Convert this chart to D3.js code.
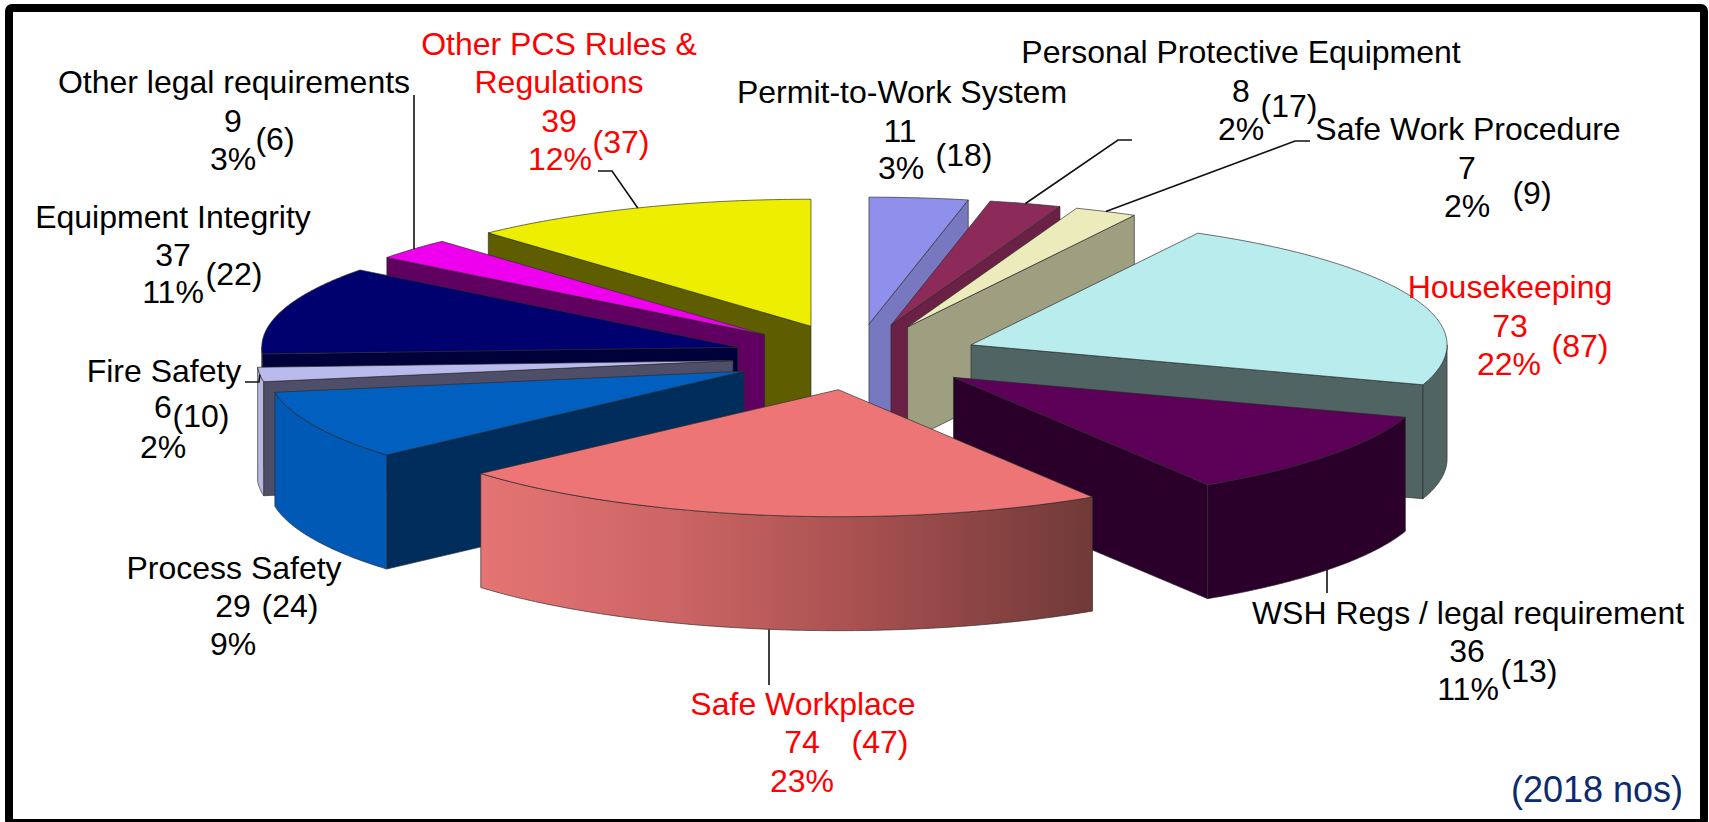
<!DOCTYPE html>
<html lang="en">
<head>
    <meta charset="UTF-8">
    <title>Findings by category (2018 nos)</title>
    <script src="https://d3js.org/d3.v7.min.js"></script>
    <style>
        html, body { margin: 0; padding: 0; background: #fff; }
        svg { display: block; }
        text { font-family: "Liberation Sans", Arial, sans-serif; font-size: 32px; text-anchor: middle; }
    </style>
</head>
<body>
    <div id="chart_div"></div>
    <script>
        // Data, clockwise from 12 o'clock
        const categories = ["Permit-to-Work System", "Personal Protective Equipment", "Safe Work Procedure",
            "Housekeeping", "WSH Regs / legal requirement", "Safe Workplace", "Process Safety", "Fire Safety",
            "Equipment Integrity", "Other legal requirements", "Other PCS Rules & Regulations"];
        const counts = [11, 8, 7, 73, 36, 74, 29, 6, 37, 9, 39];
        const previousCounts = [18, 17, 9, 87, 13, 47, 24, 10, 22, 6, 37];
        const percents = [3, 2, 2, 22, 11, 23, 9, 2, 11, 3, 12];
        const highlighted = ["Housekeeping", "Safe Workplace", "Other PCS Rules & Regulations"];
        const footnote = "(2018 nos)";

        const width = 1709;
        const height = 822;

        // Pie geometry
        const cx = 856, cy = 357, rx = 476, ry = 127, depth = 114, explode = 0.26;

        const topColors = ["#8f8fec", "#8c2a5a", "#ecebbc", "#b9ecec", "#5c0058", "#ee7575",
            "#005fbf", "#babaec", "#00006e", "#ee00ee", "#eeee00"];
        const cutColors = ["#7878c0", "#6b2146", "#9e9e80", "#506464", "#2a002a", "#a85050",
            "#002d5c", "#4e4e68", "#00003a", "#600060", "#5e5e00"];
        const rimColors = ["#7878c0", "#6b2146", "#9e9e80", "#506464", "#2a002a", "url(#rimGrad)",
            "#005ab5", "#b8b8e0", "#00003a", "#600060", "#5e5e00"];

        // Label placement, one row per category: name lines, count, percent, previous count
        const labelLayout = [
            { name: [[902, 103]], count: [900, 142], pct: [901, 179], prev: [964, 166] },
            { name: [[1241, 63]], count: [1241, 102], pct: [1241, 140], prev: [1289, 117] },
            { name: [[1468, 140]], count: [1467, 179], pct: [1467, 217], prev: [1532, 204] },
            { name: [[1510, 298]], count: [1510, 337], pct: [1509, 375], prev: [1580, 357] },
            { name: [[1468, 624]], count: [1467, 662], pct: [1468, 700], prev: [1529, 682] },
            { name: [[803, 715]], count: [802, 753], pct: [802, 792], prev: [880, 753] },
            { name: [[234, 579]], count: [233, 617], pct: [233, 655], prev: [290, 617] },
            { name: [[164, 382]], count: [163, 418], pct: [163, 458], prev: [201, 427] },
            { name: [[173, 228]], count: [173, 266], pct: [173, 303], prev: [234, 285] },
            { name: [[234, 93]], count: [233, 132], pct: [233, 170], prev: [275, 150] },
            { name: [[559, 55], [559, 93]], count: [559, 132], pct: [560, 170], prev: [621, 153] }
        ];
        const nameLines = { "Other PCS Rules & Regulations": ["Other PCS Rules &", "Regulations"] };

        // Leader lines: from the label elbow to the middle of the slice
        const leaders = [
            { cat: "Personal Protective Equipment", pts: [[1132, 140], [1118, 140]] },
            { cat: "Safe Work Procedure", pts: [[1310, 141], [1295, 141]] },
            { cat: "WSH Regs / legal requirement", pts: [[1327, 593]], vertical: true },
            { cat: "Safe Workplace", pts: [[769, 685]], vertical: true },
            { cat: "Fire Safety", pts: [[245, 382], [259, 382]] },
            { cat: "Other legal requirements", pts: [[414, 95]], vertical: true },
            { cat: "Other PCS Rules & Regulations", pts: [[598, 171], [612, 171]] }
        ];

        const x = d3.scaleLinear().domain([-1, 1]).range([cx - rx, cx + rx]);
        const y = d3.scaleLinear().domain([-1, 1]).range([cy - ry, cy + ry]);
        const line = d3.line();

        const svg = d3.select("#chart_div").append("svg")
            .attr("width", width)
            .attr("height", height);

        const grad = svg.append("defs").append("linearGradient").attr("id", "rimGrad");
        [[0, "#e57474"], [0.33, "#cb6464"], [0.62, "#a85050"], [1, "#6f3a38"]].forEach(s => {
            grad.append("stop").attr("offset", s[0]).attr("stop-color", s[1]);
        });

        const slices = d3.pie().sort(null).value(d => d)(counts).map((s, i) => {
            const mid = (s.startAngle + s.endAngle) / 2;
            return { ...s, i, mid, ox: explode * Math.sin(mid), oy: -explode * Math.cos(mid) };
        });

        // Point of a slice at angle a, radius r (0..1), z 0 = top face, 1 = bottom face
        function pt(s, a, r, z) {
            return [x(s.ox + r * Math.sin(a)), y(s.oy - r * Math.cos(a)) + z * depth];
        }

        function arcPts(s, a, b, z) {
            const n = Math.ceil((b - a) / 0.01);
            return d3.range(n + 1).map(k => pt(s, a + (b - a) * k / n, 1, z));
        }

        function drawPoly(g, pts, fill) {
            g.append("path")
                .attr("d", line(pts) + "Z")
                .attr("fill", fill)
                .attr("stroke", "#2b2b2b")
                .attr("stroke-opacity", 0.75)
                .attr("stroke-width", 0.9)
                .attr("stroke-linejoin", "round");
        }

        // Back to front
        const order = slices.slice().sort((a, b) => Math.cos(b.mid) - Math.cos(a.mid));
        const pieG = svg.append("g");
        order.forEach(s => {
            const g = pieG.append("g").attr("class", "slice");
            const a = s.startAngle, b = s.endAngle;

            // cut faces that look towards the viewer
            if (Math.sin(a) < 0) {
                drawPoly(g, [pt(s, 0, 0, 0), pt(s, a, 1, 0), pt(s, a, 1, 1), pt(s, 0, 0, 1)], cutColors[s.i]);
            }
            if (Math.sin(b) > 0) {
                drawPoly(g, [pt(s, 0, 0, 0), pt(s, b, 1, 0), pt(s, b, 1, 1), pt(s, 0, 0, 1)], cutColors[s.i]);
            }

            // rim, front half only
            const a1 = Math.max(a, Math.PI / 2), b1 = Math.min(b, 3 * Math.PI / 2);
            if (a1 < b1) {
                drawPoly(g, arcPts(s, a1, b1, 0).concat(arcPts(s, a1, b1, 1).reverse()), rimColors[s.i]);
            }

            drawPoly(g, [pt(s, 0, 0, 0)].concat(arcPts(s, a, b, 0)), topColors[s.i]);
        });

        // Leader lines
        leaders.forEach(l => {
            const s = slices[categories.indexOf(l.cat)];
            const end = pt(s, s.mid, 1, Math.cos(s.mid) < -0.5 ? 1 : 0);
            if (l.vertical) end[0] = l.pts[0][0];
            svg.append("path")
                .attr("d", line(l.pts.concat([end])))
                .attr("fill", "none")
                .attr("stroke", "#111")
                .attr("stroke-width", 1.6);
        });

        // Labels
        function addText(p, str, color) {
            svg.append("text").attr("x", p[0]).attr("y", p[1]).attr("fill", color).text(str);
        }
        categories.forEach((c, i) => {
            const color = highlighted.includes(c) ? "#ff0000" : "#000";
            const pos = labelLayout[i];
            (nameLines[c] || [c]).forEach((t, k) => addText(pos.name[k], t, color));
            addText(pos.count, counts[i], color);
            addText(pos.pct, percents[i] + "%", color);
            addText(pos.prev, "(" + previousCounts[i] + ")", color);
        });

        svg.append("text")
            .attr("x", 1683).attr("y", 802)
            .attr("fill", "#0b2a70")
            .style("font-size", "36px")
            .style("text-anchor", "end")
            .text(footnote);

        // Frame
        svg.append("rect")
            .attr("x", 9).attr("y", 8)
            .attr("width", 1695).attr("height", 815)
            .attr("rx", 3)
            .attr("fill", "none")
            .attr("stroke", "#000")
            .attr("stroke-width", 8);
    </script>
</body>
</html>
